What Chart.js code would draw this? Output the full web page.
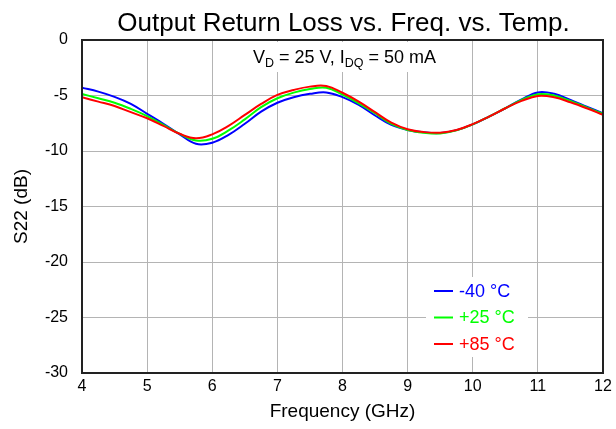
<!DOCTYPE html>
<html>
<head>
<meta charset="utf-8">
<script src="https://cdn.jsdelivr.net/npm/chart.js@4.4.0/dist/chart.umd.min.js"></script>
<style>
    html, body { margin: 0; padding: 0; background: #fff; }
</style>
</head>
<body>
<canvas id="s22Chart" width="616" height="429"></canvas>
<script>
// frequency points (GHz) and S22 (dB)
var freqs = [4, 4.25, 4.5, 4.75, 5, 5.25, 5.5, 5.75, 6, 6.25, 6.5, 6.75, 7, 7.25, 7.5, 7.75,
             8, 8.25, 8.5, 8.75, 9, 9.25, 9.5, 9.75, 10, 10.25, 10.5, 10.75, 11, 11.25, 11.5, 11.75, 12];
var s22Minus40 = [-4.29, -4.65, -5.12, -5.75, -6.65, -7.55, -8.5, -9.35, -9.25, -8.55, -7.55, -6.45, -5.65, -5.15, -4.85, -4.72,
                  -5.15, -5.85, -6.8, -7.65, -8.1, -8.32, -8.38, -8.12, -7.6, -6.9, -6.15, -5.35, -4.72, -4.85, -5.4, -6.0, -6.6];
var s22Plus25 = [-4.86, -5.25, -5.65, -6.2, -6.85, -7.65, -8.45, -9.05, -8.9, -8.15, -7.15, -6.05, -5.25, -4.74, -4.42, -4.3,
                 -4.92, -5.7, -6.6, -7.56, -8.1, -8.35, -8.42, -8.14, -7.6, -6.9, -6.15, -5.4, -4.88, -5.0, -5.5, -6.07, -6.65];
var s22Plus85 = [-5.16, -5.55, -5.95, -6.5, -7.05, -7.74, -8.45, -8.85, -8.5, -7.74, -6.75, -5.76, -4.95, -4.5, -4.2, -4.15,
                 -4.75, -5.55, -6.5, -7.44, -8.04, -8.3, -8.35, -8.1, -7.58, -6.9, -6.15, -5.49, -5.04, -5.16, -5.61, -6.15, -6.75];
var seriesNames = ["-40 \u00B0C", "+25 \u00B0C", "+85 \u00B0C"];
var seriesColors = ["#0000ff", "#00ff00", "#ff0000"];

var xTicks = [4, 5, 6, 7, 8, 9, 10, 11, 12];
var yTicks = [0, -5, -10, -15, -20, -25, -30];

var FONT = "'Liberation Sans', Arial, sans-serif";

function toPoints(ys) {
    var pts = [];
    for (var i = 0; i < freqs.length; i++) {
        pts.push({ x: freqs[i], y: ys[i] });
    }
    return pts;
}

var allSeries = [s22Minus40, s22Plus25, s22Plus85];
var datasets = [];
for (var i = 0; i < allSeries.length; i++) {
    datasets.push({
        label: seriesNames[i],
        data: toPoints(allSeries[i]),
        borderColor: seriesColors[i],
        backgroundColor: seriesColors[i],
        borderWidth: 2,
        pointRadius: 0,
        tension: 0.4,
        order: allSeries.length - i
    });
}

// title, condition box, legend and frame
var extras = {
    id: "extras",
    beforeDatasetsDraw: function (chart) {
        var ctx = chart.ctx;
        ctx.save();
        ctx.fillStyle = "#fff";
        ctx.fillRect(246, 42, 204, 30);
        ctx.fillRect(426, 277, 102, 80);
        ctx.restore();
    },
    afterDraw: function (chart) {
        var ctx = chart.ctx;
        var area = chart.chartArea;
        var cx = (area.left + area.right) / 2;
        ctx.save();

        // frame
        ctx.strokeStyle = "#222";
        ctx.lineWidth = 2;
        ctx.strokeRect(area.left, area.top, area.right - area.left, area.bottom - area.top);

        // title
        ctx.fillStyle = "#000";
        ctx.font = "26px " + FONT;
        ctx.textAlign = "center";
        ctx.textBaseline = "alphabetic";
        ctx.fillText("Output Return Loss vs. Freq. vs. Temp.", cx + 1, 31);

        // bias conditions, with subscripts
        var parts = [
            ["V", false], ["D", true], [" = 25 V, I", false], ["DQ", true], [" = 50 mA", false]
        ];
        var total = 0;
        parts.forEach(function (p) {
            ctx.font = (p[1] ? "12.5px " : "18px ") + FONT;
            total += ctx.measureText(p[0]).width;
        });
        var x = cx + 2 - total / 2;
        ctx.textAlign = "left";
        parts.forEach(function (p) {
            ctx.font = (p[1] ? "12.5px " : "18px ") + FONT;
            ctx.fillText(p[0], x, p[1] ? 67 : 63);
            x += ctx.measureText(p[0]).width;
        });

        // legend
        var rows = [291, 317.5, 344];
        ctx.font = "18px " + FONT;
        ctx.textBaseline = "middle";
        chart.data.datasets.forEach(function (ds, k) {
            ctx.strokeStyle = ds.borderColor;
            ctx.lineWidth = 2;
            ctx.beginPath();
            ctx.moveTo(434, rows[k]);
            ctx.lineTo(453, rows[k]);
            ctx.stroke();
            ctx.fillStyle = ds.borderColor;
            ctx.fillText(ds.label, 459, rows[k] + 1);
        });
        ctx.restore();
    }
};

var ctx = document.getElementById("s22Chart").getContext("2d");
var chart = new Chart(ctx, {
    type: "line",
    data: { datasets: datasets },
    plugins: [extras],
    options: {
        responsive: false,
        animation: false,
        layout: { padding: { top: 40, right: 13, left: 0, bottom: 0 } },
        plugins: {
            legend: { display: false },
            title: { display: false },
            tooltip: { enabled: false }
        },
        scales: {
            x: {
                type: "linear",
                min: 4,
                max: 12,
                afterBuildTicks: function (axis) {
                    axis.ticks = xTicks.map(function (v) { return { value: v }; });
                },
                afterFit: function (axis) { axis.height = 56; },
                grid: { color: "#b4b4b4", lineWidth: 1, drawTicks: false },
                border: { display: false },
                ticks: {
                    color: "#000",
                    padding: 4,
                    maxRotation: 0,
                    font: { family: FONT, size: 16 }
                },
                title: {
                    display: true,
                    text: "Frequency (GHz)",
                    color: "#000",
                    font: { family: FONT, size: 19 },
                    padding: { top: 0, bottom: 6 }
                }
            },
            y: {
                min: -30,
                max: 0,
                afterBuildTicks: function (axis) {
                    axis.ticks = yTicks.map(function (v) { return { value: v }; });
                },
                afterFit: function (axis) { axis.width = 82; },
                grid: { color: "#b4b4b4", lineWidth: 1, drawTicks: false },
                border: { display: false },
                ticks: {
                    color: "#000",
                    padding: 14,
                    font: { family: FONT, size: 16 }
                },
                title: {
                    display: true,
                    text: "S22 (dB)",
                    color: "#000",
                    font: { family: FONT, size: 19 },
                    padding: { top: 10, bottom: 0 }
                }
            }
        }
    }
});
</script>
</body>
</html>
